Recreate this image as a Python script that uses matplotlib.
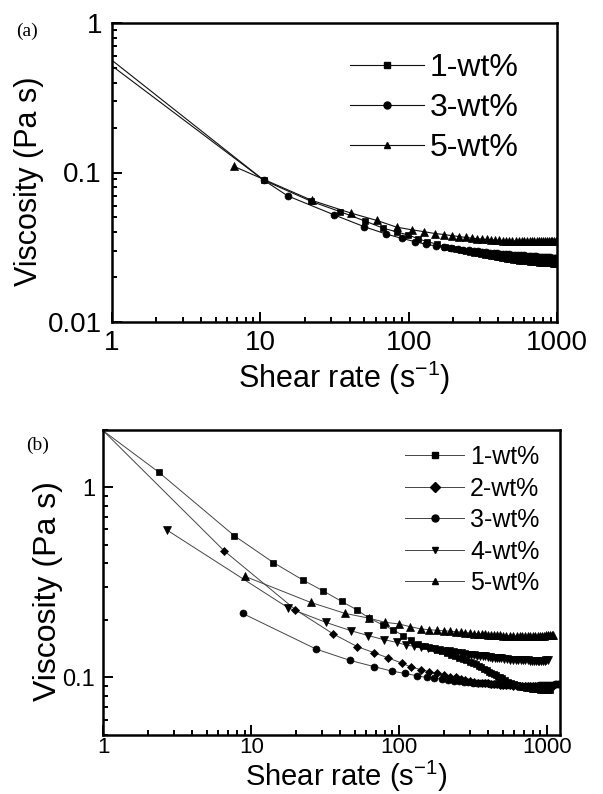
import matplotlib
matplotlib.use('Agg')
import matplotlib.pyplot as plt
from matplotlib.lines import Line2D
from matplotlib.ticker import FixedLocator, FixedFormatter, LogLocator, NullFormatter

plt.rcParams['font.family'] = ['Liberation Sans', 'DejaVu Sans']
plt.rcParams['mathtext.fontset'] = 'custom'
plt.rcParams['mathtext.rm'] = 'Liberation Sans'
plt.rcParams['mathtext.it'] = 'Liberation Sans'

# ---------------- panel (a) data ----------------
A_x1 = [1, 10.6, 22.1, 34.6, 50.9, 67.5, 83, 99, 116, 132, 154, 175, 192, 208, 225, 241, 258, 274, 291, 307,
        324, 340, 357, 373, 390, 406, 423, 439, 456, 472, 489, 505, 530, 555, 580, 605, 630, 655, 680, 705,
        730, 755, 780, 805, 830, 855, 880, 905, 930, 955, 980, 1000]
A_y1 = [0.567, 0.0886, 0.064, 0.0546, 0.0472, 0.0423, 0.0400, 0.0381, 0.0360, 0.0344, 0.0332, 0.0318, 0.0312,
        0.0307, 0.0302, 0.0298, 0.0294, 0.0290, 0.0287, 0.0284, 0.0281, 0.0278, 0.0276, 0.0274, 0.0272, 0.0270,
        0.0268, 0.0266, 0.0265, 0.0263, 0.0262, 0.0260, 0.0259, 0.0257, 0.0256, 0.0255, 0.0254, 0.0253, 0.0252,
        0.0251, 0.0250, 0.0249, 0.0249, 0.0248, 0.0247, 0.0247, 0.0246, 0.0246, 0.0245, 0.0245, 0.0244, 0.0244]
A_x3 = [1, 10.6, 15.3, 31.6, 50.2, 70.4, 89.7, 110, 131, 153, 173, 193, 213, 233, 253, 273, 293, 313, 333, 353,
        373, 393, 413, 433, 453, 473, 493, 518, 543, 568, 593, 618, 643, 668, 693, 718, 743, 768, 793, 818,
        843, 868, 893, 918, 943, 968, 993]
A_y3 = [0.520, 0.0886, 0.0697, 0.0519, 0.0433, 0.0387, 0.0362, 0.0344, 0.0330, 0.0322, 0.0316, 0.0311, 0.0307,
        0.0304, 0.0301, 0.0298, 0.0296, 0.0294, 0.0292, 0.0290, 0.0289, 0.0287, 0.0286, 0.0285, 0.0284, 0.0283,
        0.0282, 0.0281, 0.0280, 0.0279, 0.0278, 0.0277, 0.0276, 0.0275, 0.0275, 0.0274, 0.0273, 0.0273, 0.0272,
        0.0271, 0.0271, 0.0270, 0.0270, 0.0269, 0.0269, 0.0268, 0.0268]
A_x5 = [6.64, 22.2, 40.7, 61, 83, 105, 127, 150, 173, 196, 219, 242, 266, 288, 312, 335, 358, 382, 405, 428,
        451, 474, 497, 525, 550, 575, 600, 625, 650, 675, 700, 725, 750, 775, 800, 825, 850, 875, 900, 925,
        950, 975, 1000]
A_y5 = [0.110, 0.0651, 0.0535, 0.0477, 0.0430, 0.0413, 0.0401, 0.0390, 0.0384, 0.0377, 0.0372, 0.0367, 0.0363,
        0.0360, 0.0358, 0.0356, 0.0354, 0.0352, 0.0351, 0.0350, 0.0349, 0.0348, 0.0348, 0.0347, 0.0347, 0.0346,
        0.0346, 0.0346, 0.0346, 0.0346, 0.0346, 0.0346, 0.0346, 0.0346, 0.0347, 0.0347, 0.0347, 0.0347, 0.0348,
        0.0348, 0.0348, 0.0348, 0.0349]
A_labels = ['1-wt%', '3-wt%', '5-wt%']

# ---------------- panel (b) data ----------------
B_x1 = [1, 2.37, 7.7, 14.1, 22.2, 30.4, 40.8, 51.5, 62.7, 77.2, 91, 106, 121, 134, 149, 164, 179, 194, 209, 224,
        239, 254, 269, 284, 299, 314, 329, 344, 359, 374, 389, 404, 419, 434, 449, 464, 479, 494, 520, 545,
        570, 595, 620, 645, 670, 695, 720, 745, 770, 795, 820, 845, 870, 895, 920, 945, 970, 995, 1020, 1045]
B_y1 = [1.98, 1.20, 0.555, 0.402, 0.326, 0.286, 0.251, 0.227, 0.205, 0.189, 0.178, 0.166, 0.157, 0.150, 0.146,
        0.143, 0.140, 0.137, 0.134, 0.131, 0.129, 0.127, 0.125, 0.123, 0.121, 0.119, 0.117, 0.115, 0.113, 0.111,
        0.109, 0.107, 0.106, 0.104, 0.103, 0.101, 0.100, 0.099, 0.097, 0.095, 0.093, 0.092, 0.091, 0.090, 0.089,
        0.089, 0.088, 0.088, 0.088, 0.087, 0.087, 0.087, 0.087, 0.086, 0.086, 0.086, 0.086, 0.086, 0.086, 0.086]
B_x2 = [1, 6.54, 19.9, 35.5, 52.2, 67.5, 83.4, 104, 121, 140, 160, 180, 200, 220, 240, 260, 280, 300, 320, 340,
        360, 380, 400, 420, 440, 460, 480, 500, 530, 560, 590, 620, 650, 680, 710, 740, 770, 800, 830, 860,
        890, 920, 950, 980, 1010, 1040, 1070, 1100]
B_y2 = [1.98, 0.464, 0.227, 0.170, 0.145, 0.135, 0.127, 0.119, 0.113, 0.110, 0.107, 0.105, 0.103, 0.101, 0.100,
        0.098, 0.097, 0.096, 0.095, 0.094, 0.094, 0.093, 0.093, 0.092, 0.092, 0.092, 0.091, 0.091, 0.091, 0.091,
        0.090, 0.090, 0.090, 0.090, 0.090, 0.090, 0.090, 0.090, 0.090, 0.090, 0.090, 0.090, 0.090, 0.090, 0.090,
        0.090, 0.090, 0.090]
B_x3 = [8.75, 27.4, 46.4, 67.5, 88.9, 109, 132, 153, 173, 193, 213, 233, 253, 273, 293, 313, 333, 353, 373, 393,
        413, 433, 453, 473, 493, 523, 553, 583, 613, 643, 673, 703, 733, 763, 793, 823, 853, 883, 913, 943,
        973, 1003, 1033, 1063, 1093, 1123, 1153, 1183, 1210]
B_y3 = [0.217, 0.141, 0.123, 0.114, 0.108, 0.105, 0.102, 0.100, 0.099, 0.098, 0.097, 0.096, 0.096, 0.095, 0.095,
        0.094, 0.094, 0.093, 0.093, 0.093, 0.092, 0.092, 0.092, 0.092, 0.091, 0.091, 0.091, 0.091, 0.091, 0.0905,
        0.0905, 0.0905, 0.0905, 0.0905, 0.0905, 0.0905, 0.0905, 0.091, 0.091, 0.091, 0.091, 0.091, 0.0915, 0.0915,
        0.0915, 0.092, 0.092, 0.092, 0.092]
B_x4 = [2.68, 17.8, 31.8, 47.2, 61.8, 78.8, 96, 111, 126, 141, 156, 171, 186, 201, 216, 231, 246, 261, 276, 291,
        306, 321, 336, 351, 366, 381, 396, 411, 426, 441, 456, 471, 486, 511, 536, 561, 586, 611, 636, 661,
        686, 711, 736, 761, 786, 811, 836, 861, 886, 911, 936, 961, 986, 1010]
B_y4 = [0.597, 0.232, 0.195, 0.176, 0.166, 0.158, 0.153, 0.148, 0.146, 0.144, 0.142, 0.141, 0.139, 0.138, 0.137,
        0.136, 0.135, 0.134, 0.133, 0.132, 0.132, 0.131, 0.130, 0.130, 0.129, 0.129, 0.128, 0.128, 0.127, 0.127,
        0.126, 0.126, 0.126, 0.125, 0.125, 0.124, 0.124, 0.124, 0.123, 0.123, 0.123, 0.123, 0.123, 0.122, 0.122,
        0.122, 0.122, 0.122, 0.122, 0.122, 0.122, 0.122, 0.123, 0.123]
B_x5 = [9.07, 25.2, 43.2, 62.4, 80, 99.6, 118, 140, 160, 180, 200, 220, 240, 260, 280, 300, 320, 340, 360, 380,
        400, 420, 440, 460, 480, 500, 530, 560, 590, 620, 650, 680, 710, 740, 770, 800, 830, 860, 890, 920,
        950, 980, 1010, 1040, 1070, 1100]
B_y5 = [0.340, 0.248, 0.217, 0.205, 0.195, 0.191, 0.185, 0.180, 0.178, 0.177, 0.176, 0.175, 0.174, 0.173, 0.172,
        0.171, 0.170, 0.170, 0.169, 0.169, 0.168, 0.168, 0.167, 0.167, 0.167, 0.166, 0.166, 0.166, 0.165, 0.165,
        0.165, 0.165, 0.165, 0.165, 0.165, 0.165, 0.165, 0.166, 0.166, 0.166, 0.166, 0.167, 0.167, 0.167, 0.168,
        0.168]
B_labels = ['1-wt%', '2-wt%', '3-wt%', '4-wt%', '5-wt%']

W, H = 603, 794
fig = plt.figure(figsize=(W / 100, H / 100), dpi=100)


def px_axes(l, t, r, b):
    return fig.add_axes([l / W, 1 - b / H, (r - l) / W, (b - t) / H])


def series(ax, x, y, marker, ms, lc, lw, skip_first):
    ax.plot(x, y, '-', color=lc, lw=lw, zorder=2)
    xs, ys = (x[1:], y[1:]) if skip_first else (x, y)
    ax.plot(xs, ys, ls='none', marker=marker, ms=ms, mfc='black', mec='black', mew=0.5, zorder=3)


def style_axes(ax, xlim, ylim, yticks, ylabels, labsize, lx, ly, pady):
    ax.set_xscale('log')
    ax.set_yscale('log')
    ax.set_xlim(*xlim)
    ax.set_ylim(*ylim)
    ax.xaxis.set_major_locator(FixedLocator([1, 10, 100, 1000]))
    ax.xaxis.set_major_formatter(FixedFormatter(['1', '10', '100', '1000']))
    ax.xaxis.set_minor_locator(LogLocator(base=10, subs=[2, 3, 4, 5, 6, 7, 8, 9], numticks=20))
    ax.xaxis.set_minor_formatter(NullFormatter())
    ax.yaxis.set_major_locator(FixedLocator(yticks))
    ax.yaxis.set_major_formatter(FixedFormatter(ylabels))
    ax.yaxis.set_minor_locator(LogLocator(base=10, subs=[2, 3, 4, 5, 6, 7, 8, 9], numticks=20))
    ax.yaxis.set_minor_formatter(NullFormatter())
    ax.tick_params(which='both', direction='in', top=False, right=False, width=1.4, colors='black')
    ax.tick_params(which='major', length=7)
    ax.tick_params(which='minor', length=3.5)
    ax.tick_params(axis='x', which='major', labelsize=labsize, pad=lx)
    ax.tick_params(axis='y', which='major', labelsize=ly, pad=pady)
    for s in ax.spines.values():
        s.set_linewidth(1.8)


# ---------------- panel (a) ----------------
axA = px_axes(111.7, 23.3, 557.3, 321.7)
series(axA, A_x1, A_y1, 's', 5, '#111111', 0.8, True)
series(axA, A_x3, A_y3, 'o', 5, '#111111', 0.8, True)
series(axA, A_x5, A_y5, '^', 5.5, '#111111', 0.8, False)
style_axes(axA, (1, 1000), (0.01, 1), [0.01, 0.1, 1], ['0.01', '0.1', '1'], 20, 6, 20, 7)
hA = [Line2D([], [], color='#111111', lw=0.8, marker=m, ms=5, mfc='k', mec='k') for m in ['s', 'o', '^']]
axA.legend(hA, A_labels, loc='upper left', bbox_to_anchor=(0.535, 0.9), frameon=False, fontsize=23,
           handlelength=2.3, handletextpad=0.2, labelspacing=0.31, borderpad=0, borderaxespad=0)
fig.text(29 / W, 1 - 181 / H, 'Viscosity (Pa s)', rotation=90, ha='center', va='center', fontsize=22)
fig.text(344 / W, 1 - 378 / H, 'Shear rate (s$^{-1}$)', ha='center', va='center', fontsize=22)
fig.text(16 / W, 1 - 36 / H, '(a)', family='Liberation Serif', fontsize=14, ha='left', va='baseline')

# ---------------- panel (b) ----------------
axB = px_axes(103.3, 430, 560, 734.7)
gray = '#444444'
series(axB, B_x1, B_y1, 's', 4.8, gray, 0.7, True)
series(axB, B_x2, B_y2, 'D', 4.2, gray, 0.7, True)
series(axB, B_x3, B_y3, 'o', 5, gray, 0.7, False)
series(axB, B_x4, B_y4, 'v', 5.5, gray, 0.7, False)
series(axB, B_x5, B_y5, '^', 5.5, gray, 0.7, False)
style_axes(axB, (1, 1220), (0.05, 2), [0.1, 1], ['0.1', '1'], 16, 2, 17, 6)
hB = [Line2D([], [], color=gray, lw=0.7, marker=m, ms=5, mfc='k', mec='k') for m in ['s', 'D', 'o', 'v', '^']]
axB.legend(hB, B_labels, loc='upper left', bbox_to_anchor=(0.661, 0.95), frameon=False, fontsize=18,
           handlelength=2.35, handletextpad=0.25, labelspacing=0.3, borderpad=0, borderaxespad=0)
fig.text(48 / W, 1 - 591 / H, 'Viscosity (Pa s)', rotation=90, ha='center', va='center', fontsize=23)
fig.text(346 / W, 1 - 793.5 / H, 'Shear rate (s$^{-1}$)', ha='center', va='bottom', fontsize=21)
fig.text(26 / W, 1 - 450 / H, '(b)', family='Liberation Serif', fontsize=14, ha='left', va='baseline')

fig.savefig('out.png', dpi=100)
